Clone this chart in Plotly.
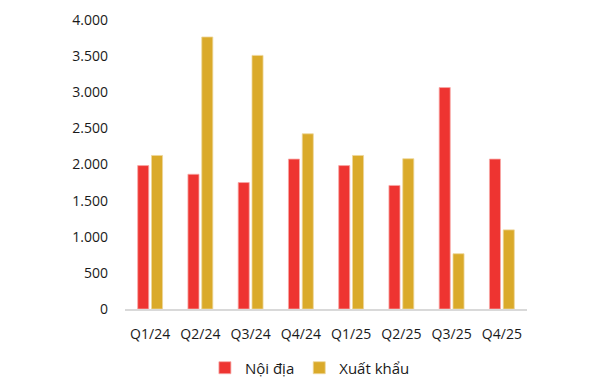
import plotly.graph_objects as go

categories = ["Q1/24", "Q2/24", "Q3/24", "Q4/24", "Q1/25", "Q2/25", "Q3/25", "Q4/25"]
noi_dia = [1985, 1865, 1750, 2075, 1985, 1710, 3065, 2075]
xuat_khau = [2125, 3765, 3510, 2425, 2125, 2080, 765, 1095]
tick_vals = [0, 500, 1000, 1500, 2000, 2500, 3000, 3500, 4000]
tick_text = ["0", "500", "1.000", "1.500", "2.000", "2.500", "3.000", "3.500", "4.000"]

FONT = "Open Sans"
RED = "#EE3431"
GOLD = "#DAAA2A"

fig = go.Figure()
fig.add_trace(go.Bar(x=categories, y=noi_dia, name="Nội địa",
                     marker=dict(color=RED, line=dict(color="#F7A8A6", width=0.8))))
fig.add_trace(go.Bar(x=categories, y=xuat_khau, name="Xuất khẩu",
                     marker=dict(color=GOLD, line=dict(color="#EED79A", width=0.8))))

fig.update_layout(
    width=605, height=384,
    margin=dict(l=125, r=78, t=20, b=75, autoexpand=False),
    paper_bgcolor="white", plot_bgcolor="white",
    barmode="group", bargap=0.45, bargroupgap=0.2,
    font=dict(family=FONT, size=14, color="#1a1a1a"),
    showlegend=True,
    legend=dict(orientation="h", x=0.46, xanchor="center", y=-0.204, yanchor="middle",
                font=dict(family=FONT, size=15, color="#1a1a1a"),
                itemwidth=30, traceorder="normal"),
)
fig.update_xaxes(showline=True, linecolor="#D9D9D9", linewidth=2, showgrid=False,
                 ticks="", tickfont=dict(family=FONT, size=14, color="#1a1a1a"),
                 ticklabelstandoff=11)
fig.update_yaxes(range=[0, 4000], tickvals=tick_vals, ticktext=tick_text,
                 showgrid=False, zeroline=False, showline=False, ticks="",
                 ticklabelstandoff=16, tickfont=dict(family=FONT, size=14, color="#1a1a1a"))

fig.write_html("out.html")
